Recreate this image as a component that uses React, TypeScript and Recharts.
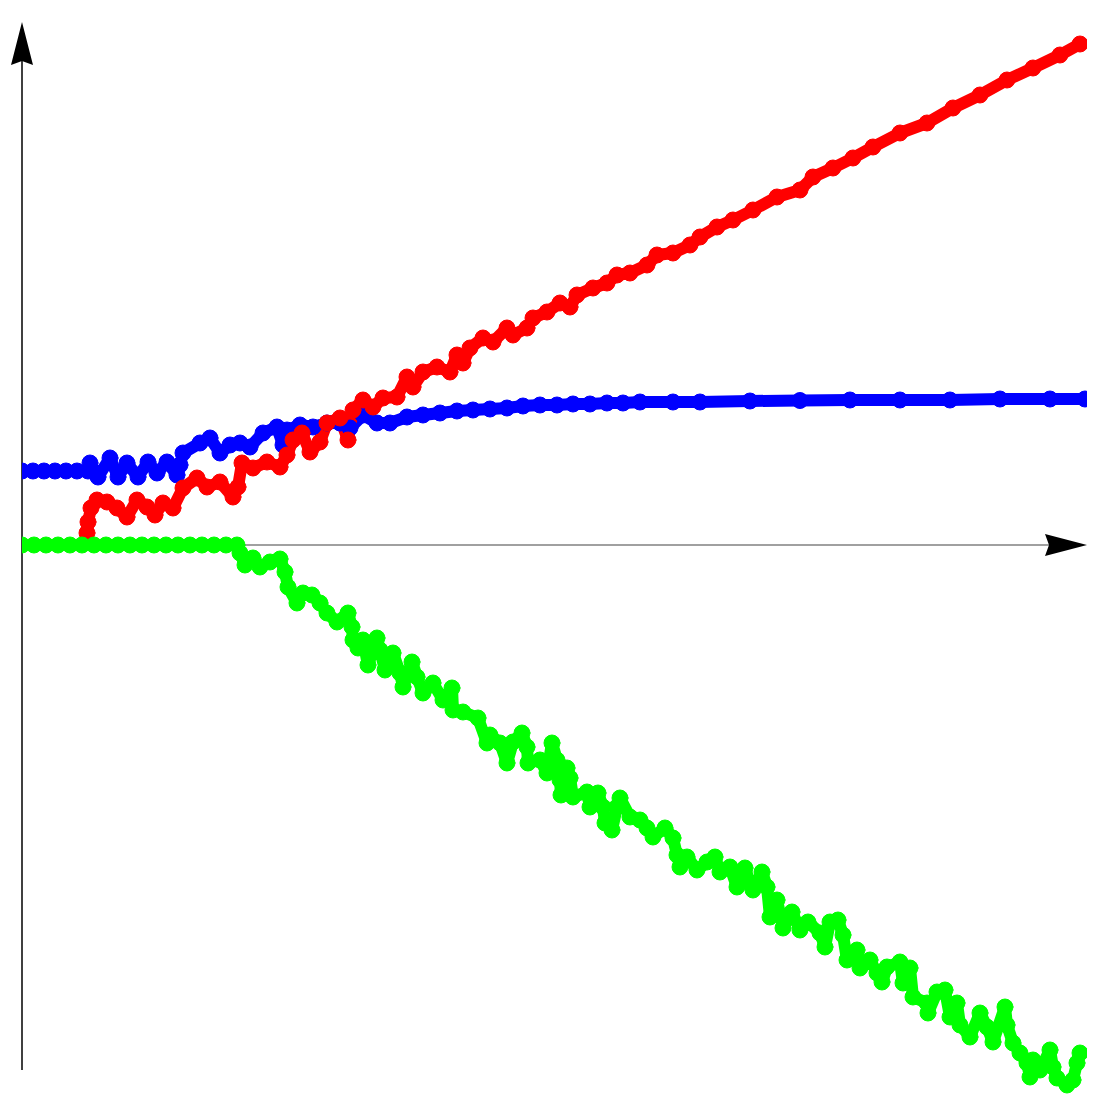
import { LineChart, Line, XAxis, YAxis, ReferenceLine } from "recharts"

// values (x: steps along the horizontal axis, y: height above the horizontal axis)
const blueX = [0, 11, 22, 33, 44, 55, 66, 68, 76, 88, 96, 105, 116, 126, 135, 145, 155, 158, 161, 178, 188, 198, 208, 218, 228, 241, 255, 261, 265, 278, 291, 305, 318, 328, 341, 355, 368, 385, 401, 418, 435, 451, 468, 485, 501, 518, 535, 551, 568, 585, 601, 618, 651, 678, 728, 778, 828, 878, 928, 978, 1028, 1063]
const blueY = [74, 74, 74, 74, 74, 74, 74, 82, 68, 87, 68, 82, 68, 83, 72, 83, 70, 80, 92, 102, 107, 92, 100, 102, 98, 112, 118, 100, 115, 120, 118, 122, 122, 117, 130, 122, 122, 128, 130, 132, 134, 135, 136, 137, 139, 140, 140, 141, 141, 142, 142, 143, 143, 143, 144, 144.5, 145, 145, 145, 146, 146, 146]

const redX = [65, 66, 69, 75, 85, 95, 105, 115, 125, 133, 141, 151, 161, 175, 185, 198, 211, 216, 220, 231, 245, 258, 265, 271, 280, 288, 298, 305, 318, 326, 331, 341, 351, 361, 375, 385, 391, 401, 415, 428, 435, 441, 448, 461, 471, 485, 491, 505, 511, 525, 538, 548, 555, 571, 585, 595, 608, 625, 635, 651, 668, 678, 695, 711, 731, 755, 778, 791, 811, 831, 851, 878, 905, 931, 958, 985, 1011, 1038, 1058]
const redY = [12, 23, 37, 45, 43, 37, 28, 45, 38, 30, 42, 37, 57, 67, 58, 63, 48, 58, 82, 77, 83, 78, 90, 105, 112, 93, 103, 122, 127, 105, 135, 145, 138, 147, 148, 168, 158, 173, 178, 173, 190, 182, 197, 207, 203, 217, 210, 217, 227, 233, 242, 238, 250, 257, 262, 270, 272, 280, 290, 292, 300, 308, 318, 325, 335, 348, 355, 368, 377, 387, 398, 412, 422, 437, 450, 465, 477, 490, 501]

const greenX = [0, 12, 24, 36, 48, 60, 72, 84, 96, 108, 120, 132, 144, 156, 168, 180, 192, 204, 215, 218, 223, 231, 238, 248, 258, 263, 266, 275, 281, 290, 298, 305, 315, 326, 330, 331, 336, 341, 346, 355, 358, 363, 371, 378, 381, 390, 395, 401, 411, 421, 430, 431, 441, 456, 465, 468, 478, 485, 491, 500, 505, 506, 518, 525, 530, 535, 538, 539, 545, 548, 551, 565, 568, 576, 581, 583, 590, 595, 598, 608, 618, 625, 631, 643, 651, 655, 658, 665, 675, 685, 693, 698, 708, 715, 723, 728, 731, 740, 745, 748, 755, 761, 770, 778, 786, 798, 803, 808, 816, 821, 825, 835, 838, 848, 855, 860, 865, 878, 881, 888, 891, 905, 906, 915, 923, 928, 935, 938, 948, 958, 965, 971, 983, 985, 991, 998, 1005, 1008, 1011, 1018, 1028, 1031, 1035, 1045, 1051, 1055, 1058]
const greenY = [0, 0, 0, 0, 0, 0, 0, 0, 0, 0, 0, 0, 0, 0, 0, 0, 0, 0, 0, -8, -20, -13, -22, -17, -14, -27, -42, -58, -48, -50, -58, -68, -77, -68, -82, -95, -103, -95, -120, -93, -105, -125, -108, -128, -142, -117, -132, -148, -138, -155, -143, -165, -167, -173, -198, -190, -198, -218, -197, -188, -202, -218, -215, -228, -198, -215, -235, -250, -223, -233, -252, -247, -262, -248, -262, -278, -285, -262, -253, -272, -275, -283, -292, -283, -293, -310, -322, -312, -325, -317, -312, -327, -322, -342, -323, -338, -345, -327, -342, -372, -355, -383, -367, -385, -377, -388, -402, -377, -375, -390, -415, -405, -423, -415, -428, -437, -422, -417, -438, -423, -452, -458, -468, -447, -445, -472, -458, -480, -492, -468, -482, -497, -462, -480, -498, -508, -518, -532, -515, -525, -505, -522, -533, -540, -535, -518, -508]

const toPoints = (xs: number[], ys: number[]) => xs.map((x, i) => ({ x, y: ys[i] }))

const blueData = toPoints(blueX, blueY)
const redData = toPoints(redX, redY)
const greenData = toPoints(greenX, greenY)

function ArrowY(props: any) {
  const { x1, y1, x2, y2 } = props
  return (
    <g>
      <line x1={x1} y1={y1} x2={x2} y2={y2 + 38} stroke="#000" strokeWidth={1.5} />
      <polygon points={`${x2},${y2} ${x2 - 11},${y2 + 43} ${x2},${y2 + 39} ${x2 + 11},${y2 + 43}`} fill="#000" />
    </g>
  )
}

function ArrowX(props: any) {
  const { x1, y1, x2, y2 } = props
  return (
    <g>
      <line x1={x1} y1={y1} x2={x2 - 38} y2={y2} stroke="#808080" strokeWidth={1.5} />
      <polygon points={`${x2},${y2} ${x2 - 42},${y2 - 11} ${x2 - 38},${y2} ${x2 - 42},${y2 + 11}`} fill="#000" />
    </g>
  )
}

export default function App() {
  const series = [
    { name: "blue", data: blueData, color: "#0000ff" },
    { name: "red", data: redData, color: "#ff0000" },
    { name: "green", data: greenData, color: "#00ff00" },
  ]
  return (
    <div style={{ position: "absolute", left: 0, top: 0, background: "#fff" }}>
      <LineChart width={1111} height={1111} margin={{ top: 22, right: 24, bottom: 6, left: 22 }}>
        <XAxis type="number" dataKey="x" domain={[0, 1065]} hide allowDataOverflow />
        <YAxis type="number" dataKey="y" domain={[-560, 523]} hide allowDataOverflow />
        <ReferenceLine segment={[{ x: 0, y: -525 }, { x: 0, y: 523 }]} shape={ArrowY} ifOverflow="visible" />
        <ReferenceLine segment={[{ x: 0, y: 0 }, { x: 1065, y: 0 }]} shape={ArrowX} ifOverflow="visible" />
        {series.map((s) => (
          <Line
            key={s.name}
            data={s.data}
            dataKey="y"
            type="linear"
            stroke={s.color}
            strokeWidth={12}
            strokeLinejoin="round"
            strokeLinecap="round"
            dot={{ r: 8, fill: s.color, stroke: s.color, strokeWidth: 1 }}
            activeDot={false}
            isAnimationActive={false}
          />
        ))}
      </LineChart>
    </div>
  )
}
